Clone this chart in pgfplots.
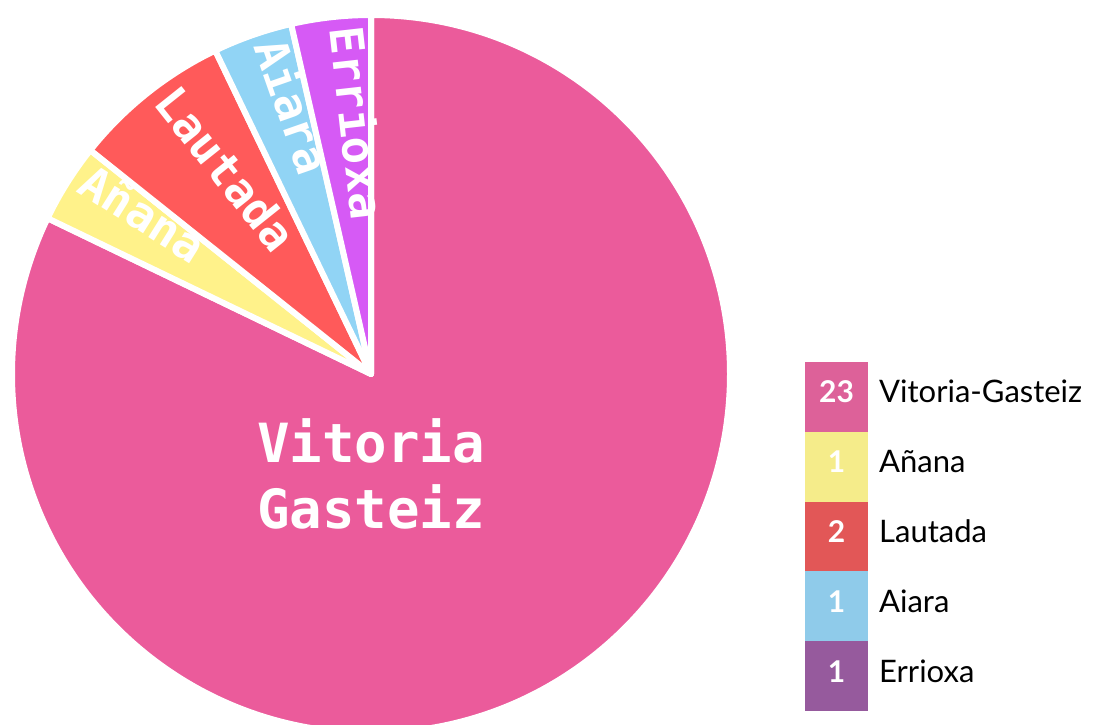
\documentclass[border=0pt]{standalone}
\usepackage{pgfplots}
\usepackage{pgfplotstable}
\pgfplotsset{compat=1.18}
\usepackage{fontspec}
\setmainfont{Lato}
\setmonofont{DejaVu Sans Mono}

\definecolor{pieV}{HTML}{EB5B9B}
\definecolor{pieA}{HTML}{FFF28A}
\definecolor{pieL}{HTML}{FF5A5A}
\definecolor{pieI}{HTML}{91D4F5}
\definecolor{pieE}{HTML}{D65AF5}
\definecolor{keyV}{HTML}{DD6199}
\definecolor{keyA}{HTML}{F5EC8A}
\definecolor{keyL}{HTML}{E25757}
\definecolor{keyI}{HTML}{8FCBEA}
\definecolor{keyE}{HTML}{965A9D}

% region, seats, slice colour, key colour, slice label (x = none)
\pgfplotstableread[col sep=comma]{
name,value,pie,key,lab
Vitoria-Gasteiz,23,pieV,keyV,x
Añana,1,pieA,keyA,Añana
Lautada,2,pieL,keyL,Lautada
Aiara,1,pieI,keyI,Aiara
Errioxa,1,pieE,keyE,Errioxa
}\regions

\begin{document}
\begin{tikzpicture}
\begin{axis}[
    x=1pt, y=1pt,
    xmin=0, xmax=1093, ymin=-725, ymax=0,
    hide axis,
]
\pgfplotsextra{%
  \def\cx{371}\def\cy{-374}\def\R{359}%
  \gdef\total{0}%
  \foreach \i in {0,...,4}{%
    \pgfplotstablegetelem{\i}{value}\of\regions
    \pgfmathsetmacro\t{\total+\pgfplotsretval}\xdef\total{\t}}%
  \gdef\angstart{90}%
  \foreach \i in {0,...,4}{%
    \pgfplotstablegetelem{\i}{value}\of\regions \let\val\pgfplotsretval
    \pgfplotstablegetelem{\i}{pie}\of\regions \let\slicecol\pgfplotsretval
    \pgfplotstablegetelem{\i}{lab}\of\regions \let\slicelab\pgfplotsretval
    \pgfmathsetmacro\angend{\angstart-360*\val/\total}%
    \fill[fill=\slicecol, draw=white, line width=6pt, line join=round]
      (axis cs:\cx,\cy) -- ++(\angstart:\R pt)
      arc[start angle=\angstart, end angle=\angend, radius=\R pt] -- cycle;
    \pgfmathsetmacro\mid{(\angstart+\angend)/2}%
    \pgfmathsetmacro\lx{\cx+348*cos(\mid)}%
    \pgfmathsetmacro\ly{\cy+348*sin(\mid)}%
    \ifnum\i>0
      \node[anchor=mid west, inner sep=0pt, rotate=\mid-180, text=white,
            font=\fontsize{46}{46}\selectfont\ttfamily\bfseries]
        at (axis cs:\lx,\ly) {\slicelab};
    \fi
    \xdef\angstart{\angend}%
  }%
  \node[align=center, text=white, inner sep=0pt,
        font=\fontsize{54}{66}\selectfont\ttfamily\bfseries]
    at (axis cs:371,-474) {Vitoria\\Gasteiz};
  % key
  \foreach \i in {0,...,4}{%
    \pgfplotstablegetelem{\i}{value}\of\regions \let\val\pgfplotsretval
    \pgfplotstablegetelem{\i}{key}\of\regions \let\keycol\pgfplotsretval
    \pgfplotstablegetelem{\i}{name}\of\regions \let\keyname\pgfplotsretval
    \pgfmathsetmacro\top{-362-69.8*\i}%
    \pgfmathsetmacro\bot{\top-69.8}%
    \pgfmathsetmacro\base{\top-41}%
    \fill[\keycol] (axis cs:805,\top) rectangle (axis cs:868,\bot);
    \node[anchor=base, inner sep=0pt, text=white,
          font=\fontsize{30}{30}\selectfont\bfseries]
      at (axis cs:836.5,\base) {\val};
    \node[anchor=base west, inner sep=0pt, text=black,
          font=\fontsize{31}{31}\selectfont]
      at (axis cs:879,\base) {\keyname};
  }%
}
\end{axis}
\pgfresetboundingbox
\path[use as bounding box] (0,0) rectangle (1093pt,725pt);
\end{tikzpicture}
\end{document}
